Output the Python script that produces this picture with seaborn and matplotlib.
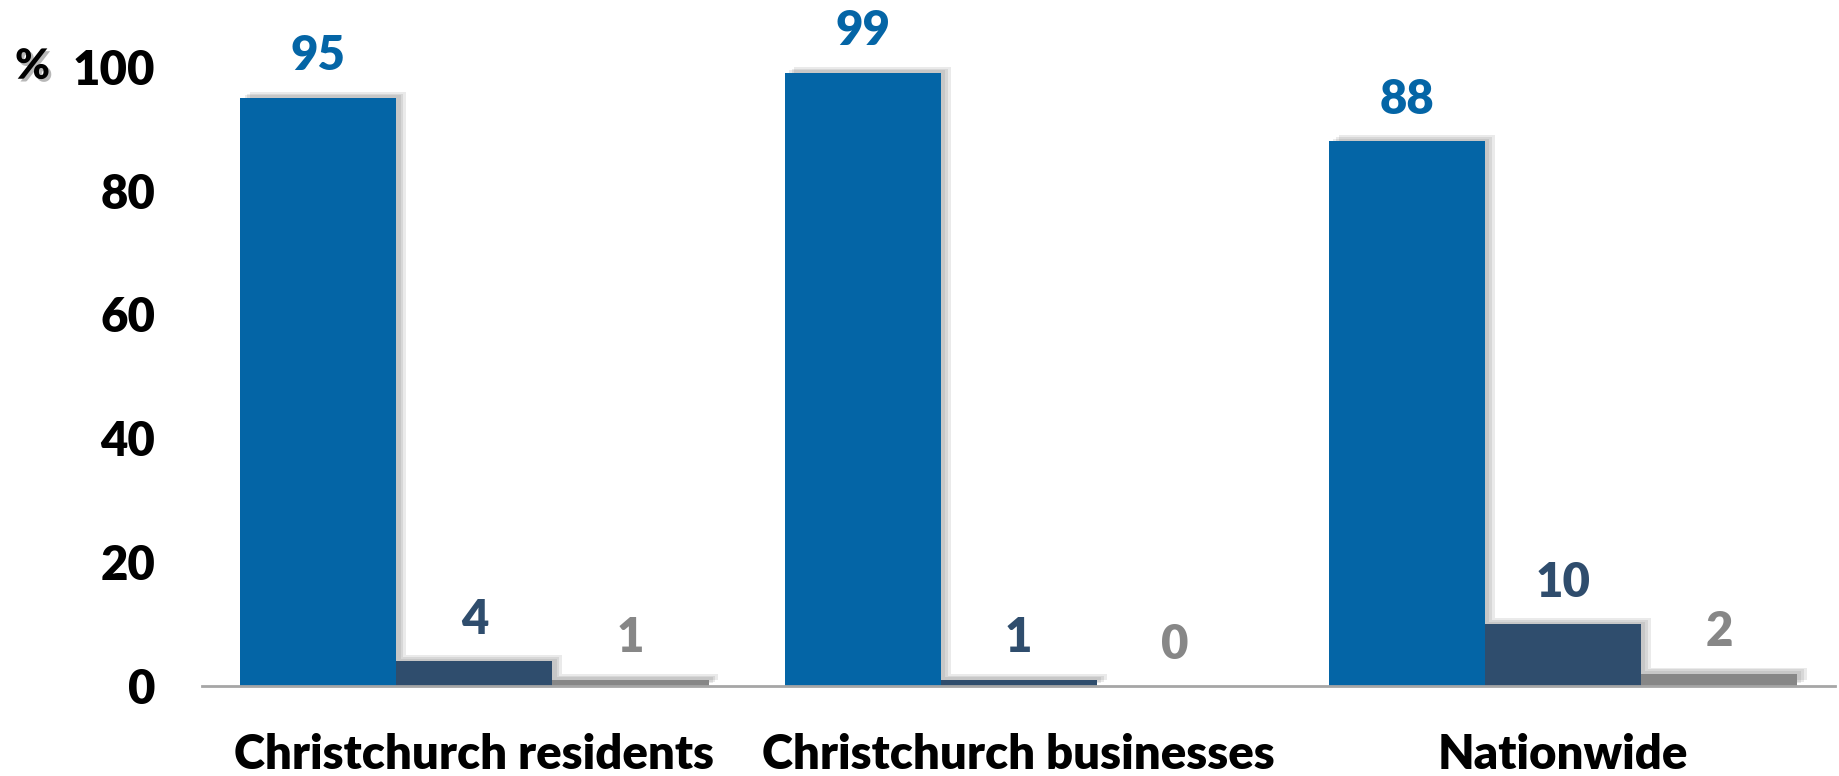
import pandas as pd
import matplotlib
matplotlib.use('Agg')
import matplotlib.pyplot as plt
import matplotlib.patheffects as pe
import seaborn as sns

# Values
categories = ['Christchurch residents', 'Christchurch businesses', 'Nationwide']
series_names = ['Series 1', 'Series 2', 'Series 3']
series1 = [95, 99, 88]
series2 = [4, 1, 10]
series3 = [1, 0, 2]
colors = ['#0465A6', '#2F4D6D', '#878787']

rows = []
for name, vals in zip(series_names, [series1, series2, series3]):
    for cat, v in zip(categories, vals):
        rows.append({'category': cat, 'series': name, 'value': v})
df = pd.DataFrame(rows)

sns.set_style('white')
plt.rcParams['font.family'] = ['Lato', 'DejaVu Sans']
plt.rcParams['font.weight'] = 'heavy'
plt.rcParams['text.color'] = 'black'
plt.rcParams['xtick.color'] = 'black'
plt.rcParams['ytick.color'] = 'black'

fig = plt.figure(figsize=(18.39, 7.76), dpi=100)
ax = fig.add_axes([0.110, 0.116, 0.888, 0.798])

sns.barplot(data=df, x='category', y='value', hue='series', palette=colors,
            width=0.86, gap=0, saturation=1, legend=False, ax=ax)

# soft drop shadow: a few offset layers with low alpha
shadow = [pe.SimplePatchShadow(offset=(o, o * 0.6), shadow_rgbFace='#555555', alpha=0.12)
          for o in (7, 5, 3)] + [pe.Normal()]
for bar in ax.patches:
    bar.set_linewidth(0)
    bar.set_path_effects(shadow)

for cont, vals, col in zip(ax.containers, [series1, series2, series3], colors):
    ax.bar_label(cont, labels=[str(v) for v in vals], padding=14, color=col,
                 fontsize=34, fontweight='heavy')

ax.set_ylim(0, 100)
ax.set_xlim(-0.5, 2.5)
ax.set_yticks([0, 20, 40, 60, 80, 100])
ax.set_xlabel('')
ax.set_ylabel('')
ax.tick_params(axis='y', length=0, pad=34, labelsize=34)
ax.tick_params(axis='x', length=0, pad=34, labelsize=34)
for lab in ax.get_xticklabels() + ax.get_yticklabels():
    lab.set_fontweight('heavy')

for side in ['top', 'right', 'left']:
    ax.spines[side].set_visible(False)
ax.spines['bottom'].set_color('#a6a6a6')
ax.spines['bottom'].set_linewidth(2)

ax.text(-0.104, 1.0, '%', transform=ax.transAxes, fontsize=30, fontweight='heavy',
        va='center', ha='center',
        path_effects=[pe.withSimplePatchShadow(offset=(2, -2), shadow_rgbFace='#888888', alpha=0.6)])

fig.savefig('out.png', dpi=100)
